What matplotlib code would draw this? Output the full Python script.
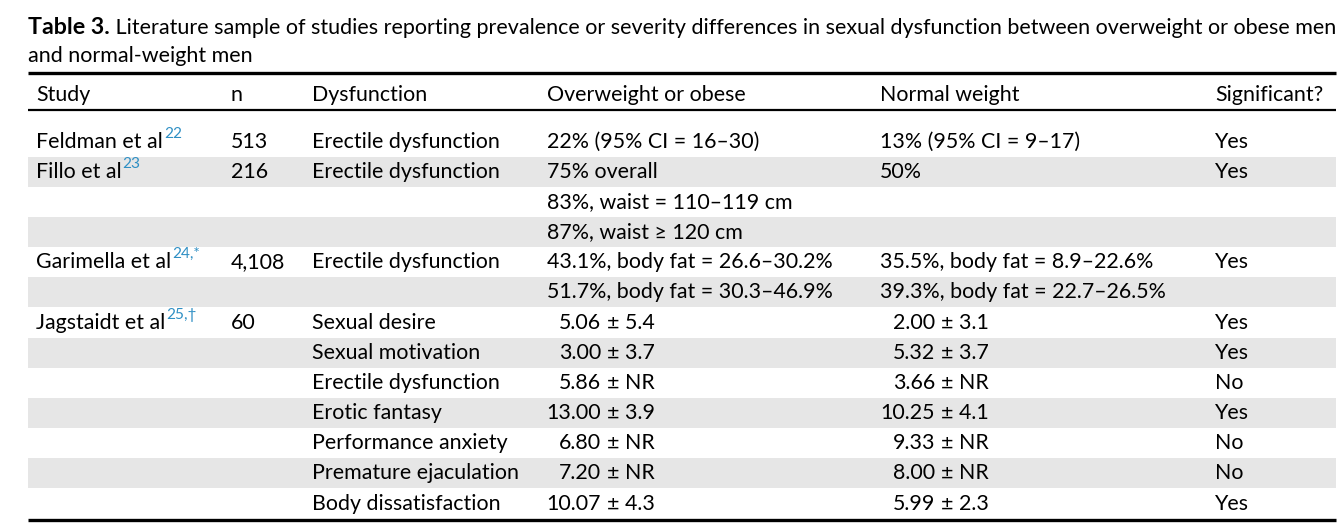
import matplotlib
matplotlib.use("Agg")
import matplotlib.pyplot as plt
from matplotlib.patches import Rectangle

plt.rcParams['font.family'] = ['Lato', 'DejaVu Sans']

W, H = 1343, 528
title_bold = "Table 3."
title_rest1 = " Literature sample of studies reporting prevalence or severity differences in sexual dysfunction between overweight or obese men"
title_rest2 = "and normal-weight men"

headers = ["Study", "n", "Dysfunction", "Overweight or obese", "Normal weight", "Significant?"]

study = ["Feldman et al", "Fillo et al", "", "", "Garimella et al", "", "Jagstaidt et al",
         "", "", "", "", "", ""]
study_sup = ["22", "23", "", "", "24,*", "", "25,\u2020", "", "", "", "", "", ""]
n_vals = ["513", "216", "", "", "4,108", "", "60", "", "", "", "", "", ""]
dysfunction = ["Erectile dysfunction", "Erectile dysfunction", "", "", "Erectile dysfunction", "",
               "Sexual desire", "Sexual motivation", "Erectile dysfunction", "Erotic fantasy",
               "Performance anxiety", "Premature ejaculation", "Body dissatisfaction"]
overweight = ["22% (95% CI = 16\u201330)", "75% overall", "83%, waist = 110\u2013119 cm",
              "87%, waist \u2265 120 cm", "43.1%, body fat = 26.6\u201330.2%",
              "51.7%, body fat = 30.3\u201346.9%",
              "5.06 \u00b1 5.4", "3.00 \u00b1 3.7", "5.86 \u00b1 NR", "13.00 \u00b1 3.9",
              "6.80 \u00b1 NR", "7.20 \u00b1 NR", "10.07 \u00b1 4.3"]
normal = ["13% (95% CI = 9\u201317)", "50%", "", "", "35.5%, body fat = 8.9\u201322.6%",
          "39.3%, body fat = 22.7\u201326.5%",
          "2.00 \u00b1 3.1", "5.32 \u00b1 3.7", "3.66 \u00b1 NR", "10.25 \u00b1 4.1",
          "9.33 \u00b1 NR", "8.00 \u00b1 NR", "5.99 \u00b1 2.3"]
significant = ["Yes", "Yes", "", "", "Yes", "", "Yes", "Yes", "No", "Yes", "No", "No", "Yes"]

fig = plt.figure(figsize=(W / 100, H / 100), dpi=100)
ax = fig.add_axes([0, 0, 1, 1])
ax.set_xlim(0, W)
ax.set_ylim(H, 0)
ax.axis('off')

FS = 15.4
TFS = 15.45
LEFT, RIGHT = 28, 1336
col_x = [36, 231, 312, 547, 880, 1215]
pm_x = [607, 941]  # x of the plus-minus sign for aligned numeric cells
row0 = 141.5
rh = 30.17
shade = "#e6e6e6"
sup_color = "#2e8fc4"

renderer = fig.canvas.get_renderer()

# title
t = ax.text(LEFT, 27.5, title_bold, fontsize=TFS + 1.2, fontweight='bold', va='center', ha='left')
bb = t.get_window_extent(renderer)
ax.text(LEFT + bb.width, 27.5, title_rest1, fontsize=TFS, va='center', ha='left')
ax.text(LEFT, 55.5, title_rest2, fontsize=TFS, va='center', ha='left')

# rules
ax.plot([LEFT, RIGHT], [73, 73], color='black', lw=2.4, solid_capstyle='butt')
ax.plot([LEFT, RIGHT], [109.5, 109.5], color='black', lw=1.6, solid_capstyle='butt')
ax.plot([LEFT, RIGHT], [519.5, 519.5], color='black', lw=2.4, solid_capstyle='butt')

# header
for x, h in zip(col_x, headers):
    ax.text(x, 95, h, fontsize=FS, va='center', ha='left')

# shading
for i in range(len(dysfunction)):
    yc = row0 + i * rh
    if i % 2 == 1:
        ax.add_patch(Rectangle((LEFT, yc - rh / 2), RIGHT - LEFT, rh, color=shade, lw=0, zorder=0))


def cell(x, y, s, pmx):
    if "\u00b1" in s:
        num, rest = s.split(" \u00b1 ")
        ax.text(pmx - 6, y, num, fontsize=FS, va='center', ha='right')
        ax.text(pmx, y, "\u00b1 " + rest, fontsize=FS, va='center', ha='left')
    elif s:
        ax.text(x, y, s, fontsize=FS, va='center', ha='left')


for i in range(len(dysfunction)):
    yc = row0 + i * rh
    if study[i]:
        tt = ax.text(col_x[0], yc, study[i], fontsize=FS, va='center', ha='left')
        b = tt.get_window_extent(renderer)
        ax.text(col_x[0] + b.width + 1, yc - 8, study_sup[i], fontsize=FS * 0.72,
                va='center', ha='left', color=sup_color)
    cell(col_x[1], yc, n_vals[i], None)
    cell(col_x[2], yc, dysfunction[i], None)
    cell(col_x[3], yc, overweight[i], pm_x[0])
    cell(col_x[4], yc, normal[i], pm_x[1])
    cell(col_x[5], yc, significant[i], None)

fig.savefig("out.png", dpi=100)
